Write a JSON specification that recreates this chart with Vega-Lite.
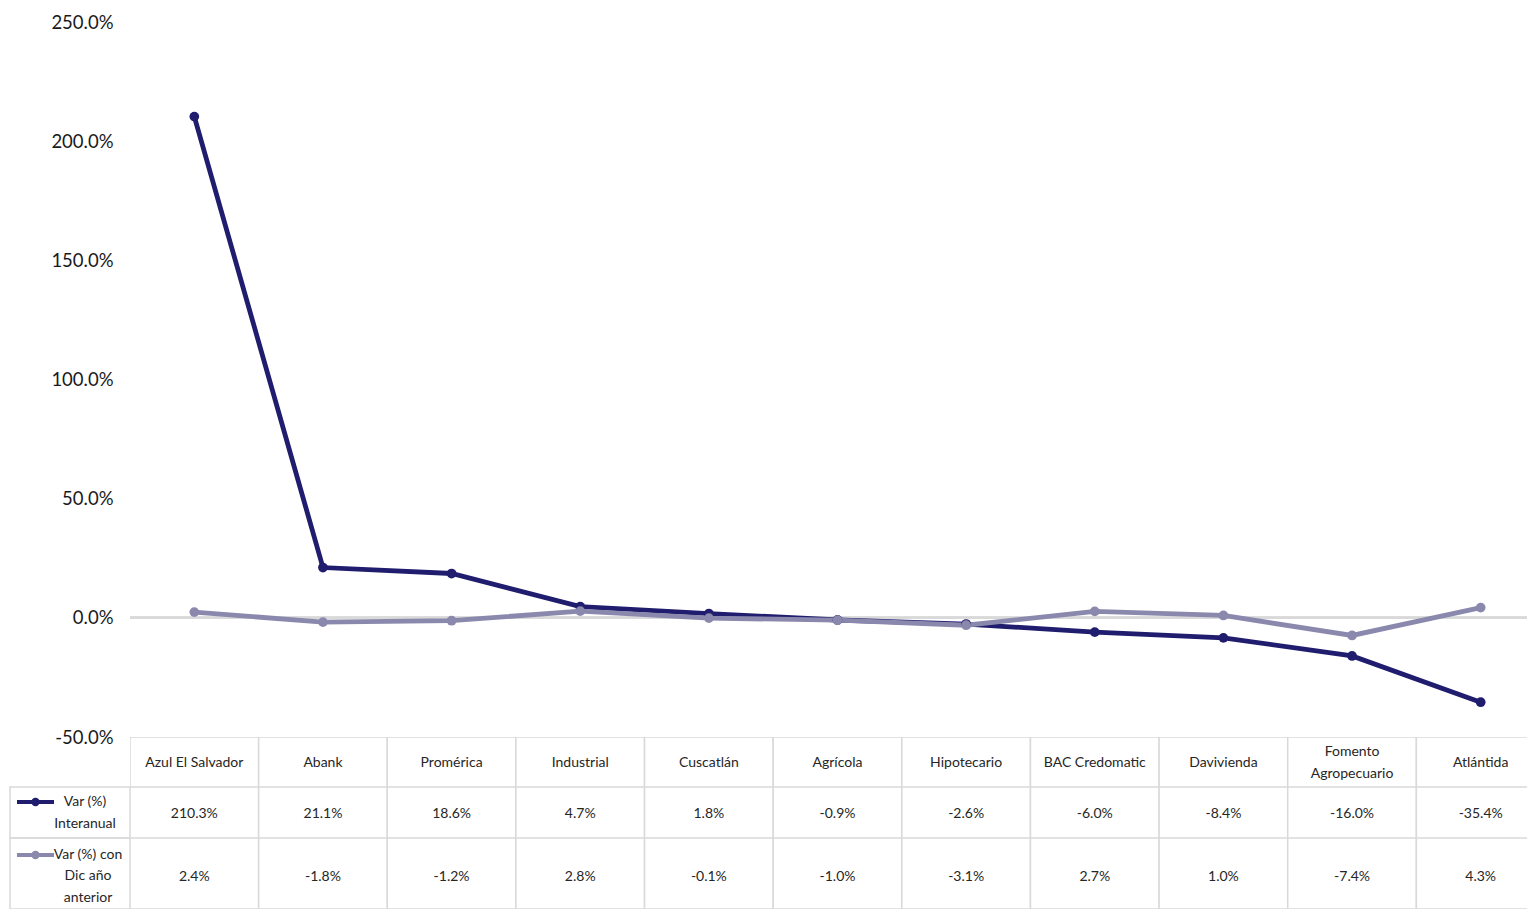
{
  "$schema": "https://vega.github.io/schema/vega-lite/v6.json",
  "autosize": {"type": "pad"},
  "padding": {"left": 9, "top": 13, "right": 0, "bottom": 0},
  "background": "white",
  "config": {
    "font": "Lato",
    "view": {"stroke": null},
    "locale": {"number": {"decimal": ".", "thousands": ",", "grouping": [3], "currency": ["$", ""], "minus": "-"}},
    "text": {"font": "Lato", "fontSize": 14, "color": "#262626"}
  },
  "datasets": {
    "tabla": [
      {"banco": "Azul El Salvador", "serie": "Var (%) Interanual", "valor": 2.103},
      {"banco": "Abank", "serie": "Var (%) Interanual", "valor": 0.211},
      {"banco": "Promérica", "serie": "Var (%) Interanual", "valor": 0.186},
      {"banco": "Industrial", "serie": "Var (%) Interanual", "valor": 0.047},
      {"banco": "Cuscatlán", "serie": "Var (%) Interanual", "valor": 0.018},
      {"banco": "Agrícola", "serie": "Var (%) Interanual", "valor": -0.009},
      {"banco": "Hipotecario", "serie": "Var (%) Interanual", "valor": -0.026},
      {"banco": "BAC Credomatic", "serie": "Var (%) Interanual", "valor": -0.060},
      {"banco": "Davivienda", "serie": "Var (%) Interanual", "valor": -0.084},
      {"banco": "Fomento\nAgropecuario", "serie": "Var (%) Interanual", "valor": -0.160},
      {"banco": "Atlántida", "serie": "Var (%) Interanual", "valor": -0.354},
      {"banco": "Azul El Salvador", "serie": "Var (%) con Dic año anterior", "valor": 0.024},
      {"banco": "Abank", "serie": "Var (%) con Dic año anterior", "valor": -0.018},
      {"banco": "Promérica", "serie": "Var (%) con Dic año anterior", "valor": -0.012},
      {"banco": "Industrial", "serie": "Var (%) con Dic año anterior", "valor": 0.028},
      {"banco": "Cuscatlán", "serie": "Var (%) con Dic año anterior", "valor": -0.001},
      {"banco": "Agrícola", "serie": "Var (%) con Dic año anterior", "valor": -0.010},
      {"banco": "Hipotecario", "serie": "Var (%) con Dic año anterior", "valor": -0.031},
      {"banco": "BAC Credomatic", "serie": "Var (%) con Dic año anterior", "valor": 0.027},
      {"banco": "Davivienda", "serie": "Var (%) con Dic año anterior", "valor": 0.010},
      {"banco": "Fomento\nAgropecuario", "serie": "Var (%) con Dic año anterior", "valor": -0.074},
      {"banco": "Atlántida", "serie": "Var (%) con Dic año anterior", "valor": 0.043}
    ]
  },
  "columns": 2,
  "spacing": 0,
  "bounds": "flush",
  "concat": [
    {
      "width": 120, "height": 715,
      "data": {"values": []},
      "mark": {"type": "text"},
      "encoding": {}
    },
    {
      "width": 1397, "height": 715,
      "data": {"name": "tabla"},
      "layer": [
        {
          "mark": {"type": "rule", "color": "#d9d9d9", "strokeWidth": 2},
          "encoding": {
            "y": {"datum": 0, "type": "quantitative", "scale": {"domain": [-0.5, 2.5], "nice": false, "zero": false},
              "axis": {"values": [-0.5, 0, 0.5, 1, 1.5, 2, 2.5], "format": ".1%", "grid": false, "domain": false, "ticks": false,
                "labelPadding": 17, "labelFontSize": 18.5, "labelColor": "#1a1a1a", "labelFont": "Lato", "title": null}}
          }
        },
        {
          "mark": {"type": "line", "strokeWidth": 4.8},
          "encoding": {
            "x": {"field": "banco", "type": "nominal", "sort": null, "scale": {"type": "point", "padding": 0.5, "range": [0, 1415]}, "axis": null},
            "y": {"field": "valor", "type": "quantitative"},
            "color": {"field": "serie", "type": "nominal", "sort": null,
              "scale": {"domain": ["Var (%) Interanual", "Var (%) con Dic año anterior"], "range": ["#201c6e", "#8a89ad"]},
              "legend": {"orient": "none", "legendX": 5, "legendY": 759.5, "title": null, "labelExpr": "''",
                "symbolType": "M-1,0L1,0M0.12,0A0.12,0.12,0,1,1,-0.12,0A0.12,0.12,0,1,1,0.12,0",
                "symbolSize": 1369, "symbolStrokeWidth": 4, "rowPadding": 22, "padding": 0, "labelOffset": 0}}
          }
        },
        {
          "mark": {"type": "point", "filled": true, "size": 95, "opacity": 1},
          "encoding": {
            "x": {"field": "banco", "type": "nominal", "sort": null},
            "y": {"field": "valor", "type": "quantitative"},
            "color": {"field": "serie", "type": "nominal", "sort": null}
          }
        }
      ]
    },
    {
      "width": 120, "height": 50,
      "data": {"values": []},
      "mark": {"type": "text"},
      "encoding": {}
    },
    {
      "width": 1397, "height": 50,
      "data": {"name": "tabla"},
      "transform": [{"filter": "datum.serie === 'Var (%) Interanual'"}],
      "encoding": {
        "x": {"field": "banco", "type": "nominal", "sort": null, "scale": {"type": "band", "paddingInner": 0, "paddingOuter": 0, "range": [0, 1415]}, "axis": null}
      },
      "layer": [
        {"mark": {"type": "rect", "fill": "white", "stroke": "#d9d9d9", "strokeWidth": 1.5, "clip": true}},
        {
          "transform": [{"filter": "indexof(datum.banco, '\\n') < 0"}],
          "mark": {"type": "text", "dy": 1},
          "encoding": {"text": {"field": "banco", "type": "nominal"}}
        },
        {
          "transform": [{"filter": "indexof(datum.banco, '\\n') >= 0"}],
          "mark": {"type": "text", "lineBreak": "\n", "lineHeight": 22, "dy": -10},
          "encoding": {"text": {"field": "banco", "type": "nominal"}}
        }
      ]
    },
    {
      "width": 120, "height": 51,
      "view": {"stroke": "#d9d9d9", "strokeWidth": 1.5},
      "data": {"values": [{"encabezado": "Var (%)\nInteranual"}]},
      "mark": {"type": "text", "lineBreak": "\n", "lineHeight": 22, "dx": 15, "dy": -11},
      "encoding": {"text": {"field": "encabezado", "type": "nominal"}}
    },
    {
      "width": 1397, "height": 51,
      "data": {"name": "tabla"},
      "transform": [{"filter": "datum.serie === 'Var (%) Interanual'"}],
      "encoding": {
        "x": {"field": "banco", "type": "nominal", "sort": null, "scale": {"type": "band", "paddingInner": 0, "paddingOuter": 0, "range": [0, 1415]}, "axis": null}
      },
      "layer": [
        {"mark": {"type": "rect", "fill": "white", "stroke": "#d9d9d9", "strokeWidth": 1.5, "clip": true}},
        {"mark": {"type": "text", "dy": 1}, "encoding": {"text": {"field": "valor", "type": "quantitative", "format": ".1%"}}}
      ]
    },
    {
      "width": 120, "height": 71,
      "view": {"stroke": "#d9d9d9", "strokeWidth": 1.5},
      "data": {"values": [{"encabezado": "Var (%) con\nDic año\nanterior"}]},
      "mark": {"type": "text", "lineBreak": "\n", "lineHeight": 21.5, "dx": 18, "dy": -19},
      "encoding": {"text": {"field": "encabezado", "type": "nominal"}}
    },
    {
      "width": 1397, "height": 71,
      "data": {"name": "tabla"},
      "transform": [{"filter": "datum.serie === 'Var (%) con Dic año anterior'"}],
      "encoding": {
        "x": {"field": "banco", "type": "nominal", "sort": null, "scale": {"type": "band", "paddingInner": 0, "paddingOuter": 0, "range": [0, 1415]}, "axis": null}
      },
      "layer": [
        {"mark": {"type": "rect", "fill": "white", "stroke": "#d9d9d9", "strokeWidth": 1.5, "clip": true}},
        {"mark": {"type": "text", "dy": 3}, "encoding": {"text": {"field": "valor", "type": "quantitative", "format": ".1%"}}}
      ]
    }
  ],
  "resolve": {"scale": {"x": "independent", "y": "independent", "color": "shared"}}
}
